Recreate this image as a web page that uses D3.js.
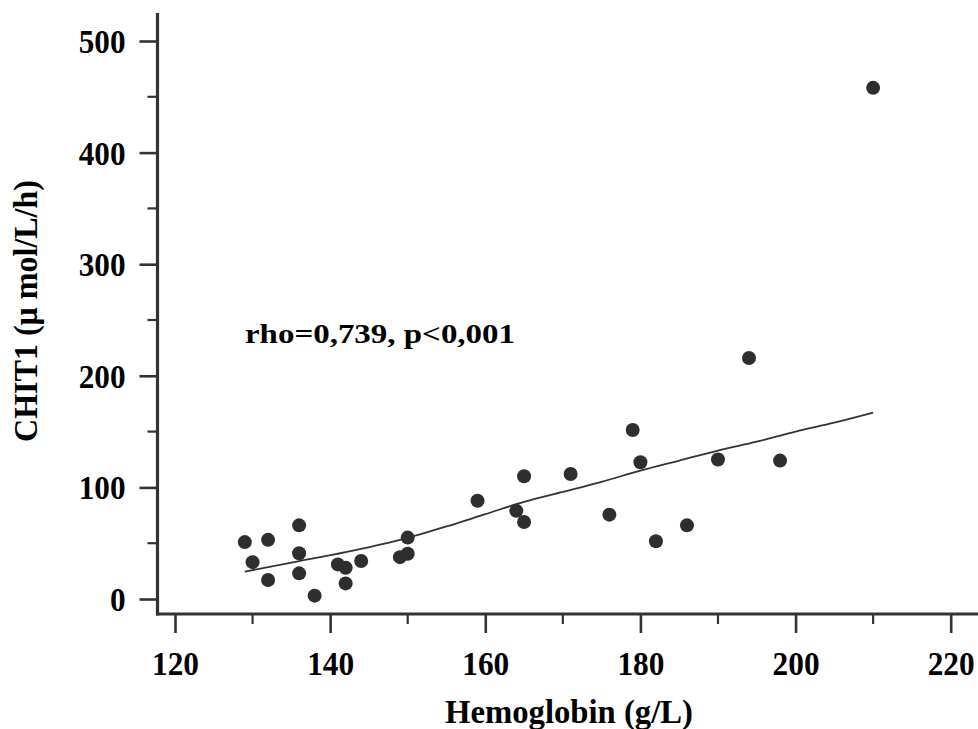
<!DOCTYPE html>
<html>
<head>
<meta charset="utf-8">
<script src="https://cdn.jsdelivr.net/npm/d3@7/dist/d3.min.js"></script>
<style>
  html, body { margin: 0; padding: 0; background: #fff; }
  svg { display: block; }
  text { font-family: "Liberation Serif", "Times New Roman", serif; font-weight: bold; fill: #000; }
</style>
</head>
<body>
<svg id="chart" width="978" height="729"></svg>
<script>
// ---- data ----
const hemoglobin = [129, 130, 132, 132, 136, 136, 136, 138, 141, 142, 142, 144, 149, 150, 150, 159, 164, 165, 165, 171, 176, 179, 180, 182, 186, 190, 194, 198, 210];
const chit1      = [51, 33, 53, 17, 66, 41, 23, 3, 31, 28, 14, 34, 37.5, 40.6, 55, 88, 79, 110, 69, 112, 75.6, 151.4, 122.6, 51.7, 66, 125, 216, 124, 458];
// smoothed trend line
const fitX = [129, 136, 142, 149, 155, 160, 165, 170, 175, 180, 185, 190, 195, 200, 205, 210];
const fitY = [24.5, 34, 42, 53, 65, 76, 87, 96, 105, 115, 124, 133, 141, 150, 158, 167];
const xTicks = [120, 140, 160, 180, 200, 220];
const xMinor = [130, 150, 170, 190, 210];
const yTicks = [0, 100, 200, 300, 400, 500];
const yMinor = [50, 150, 250, 350, 450];
const xTitle = "Hemoglobin (g/L)";
const yTitle = "CHIT1 (\u03bc mol/L/h)";
const annotation = "rho=0,739, p<0,001";

// ---- layout ----
const svg = d3.select("#chart");
const W = 978, H = 729;
const axisLeft = 157.5, axisBottom = 614, axisTop = 13;
const x = d3.scaleLinear().domain([120, 220]).range([175, 950.7]);
const y = d3.scaleLinear().domain([0, 500]).range([599, 41]);
const axisColor = "#333";

// trend line
const line = d3.line().x((d, i) => x(fitX[i])).y(d => y(d)).curve(d3.curveMonotoneX);
svg.append("path").datum(fitY)
  .attr("d", line)
  .attr("fill", "none")
  .attr("stroke", "#333")
  .attr("stroke-width", 1.8);

// points
svg.append("g").selectAll("circle").data(hemoglobin).join("circle")
  .attr("cx", d => x(d))
  .attr("cy", (d, i) => y(chit1[i]))
  .attr("r", 7)
  .attr("fill", "#2e2e2e");

// x axis
const gx = svg.append("g").attr("transform", `translate(0,${axisBottom})`);
gx.call(d3.axisBottom(x).tickValues(xTicks).tickSize(19).tickFormat(d3.format("d")))
  .call(g => g.select(".domain").remove());
gx.selectAll(".tick line").attr("stroke", axisColor).attr("stroke-width", 2.6);
gx.selectAll(".tick text").attr("font-size", 34).attr("y", 61).attr("dy", null)
  .attr("textLength", 47).attr("lengthAdjust", "spacingAndGlyphs")
  .style("font-family", "Liberation Serif").style("font-weight", "bold").attr("fill", "#000");
gx.append("g").selectAll("line").data(xMinor).join("line")
  .attr("x1", d => x(d)).attr("x2", d => x(d)).attr("y1", 0).attr("y2", 10)
  .attr("stroke", axisColor).attr("stroke-width", 2.2);
gx.append("line").attr("x1", axisLeft - 1.5).attr("x2", W).attr("y1", 0).attr("y2", 0)
  .attr("stroke", axisColor).attr("stroke-width", 3.2);

// y axis
const gy = svg.append("g").attr("transform", `translate(${axisLeft},0)`);
gy.call(d3.axisLeft(y).tickValues(yTicks).tickSize(18).tickFormat(d3.format("d")))
  .call(g => g.select(".domain").remove());
gy.selectAll(".tick line").attr("stroke", axisColor).attr("stroke-width", 2.6);
gy.selectAll(".tick text").attr("font-size", 34).attr("x", -32).attr("dy", "0.34em")
  .each(function(d) { d3.select(this).attr("textLength", String(d).length * 15.6); })
  .attr("lengthAdjust", "spacingAndGlyphs")
  .style("font-family", "Liberation Serif").style("font-weight", "bold").attr("fill", "#000");
gy.append("g").selectAll("line").data(yMinor).join("line")
  .attr("y1", d => y(d)).attr("y2", d => y(d)).attr("x1", 0).attr("x2", -10)
  .attr("stroke", axisColor).attr("stroke-width", 2.2);
gy.append("line").attr("x1", 0).attr("x2", 0).attr("y1", axisTop).attr("y2", axisBottom + 1.5)
  .attr("stroke", axisColor).attr("stroke-width", 3.2);

// axis titles
svg.append("text")
  .attr("x", 569).attr("y", 723)
  .attr("text-anchor", "middle")
  .attr("font-size", 34)
  .attr("textLength", 248)
  .attr("lengthAdjust", "spacingAndGlyphs")
  .text(xTitle);

svg.append("text")
  .attr("transform", "translate(37,311) rotate(-90)")
  .attr("text-anchor", "middle")
  .attr("font-size", 33)
  .attr("textLength", 262)
  .attr("lengthAdjust", "spacingAndGlyphs")
  .text(yTitle);

// annotation
svg.append("text")
  .attr("x", 245).attr("y", 343)
  .attr("font-size", 28)
  .attr("textLength", 270)
  .attr("lengthAdjust", "spacingAndGlyphs")
  .text(annotation);
</script>
</body>
</html>
